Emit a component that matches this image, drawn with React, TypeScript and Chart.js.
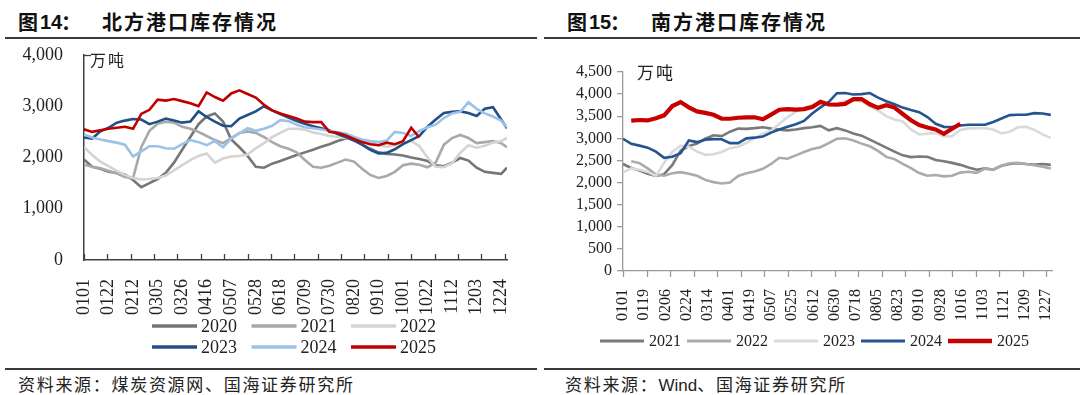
import React, { useEffect, useRef } from "react";
import { Chart, registerables } from "chart.js";

Chart.register(...registerables);

// ---------- 北方港口库存 (left) ----------
const northDays = [0, 7, 14, 21, 28, 35, 42, 49, 56, 63, 70, 77, 84, 91, 98, 105, 112, 119, 126, 133, 140, 147, 154, 161, 168, 175, 182, 189, 196, 203, 210, 217, 224, 231, 238, 245, 252, 259, 266, 273, 280, 287, 294, 301, 308, 315, 322, 329, 336, 343, 350, 357, 362];
const northLabelDays = [0, 21, 42, 63, 84, 105, 126, 147, 168, 189, 210, 231, 252, 273, 294, 315, 336, 357];
const northTickLabels = ["0101", "0122", "0212", "0305", "0326", "0416", "0507", "0528", "0618", "0709", "0730", "0820", "0910", "1001", "1022", "1112", "1203", "1224"];
const northYears = ["2020", "2021", "2022", "2023", "2024", "2025"];
const north2020 = [1960, 1820, 1780, 1720, 1700, 1670, 1560, 1420, 1500, 1580, 1700, 1900, 2150, 2400, 2650, 2800, 2860, 2700, 2350, 2200, 2030, 1820, 1800, 1880, 1930, 1990, 2050, 2100, 2150, 2210, 2260, 2320, 2370, 2360, 2250, 2170, 2100, 2070, 2060, 2040, 2000, 1970, 1930, 1850, 1830, 1900, 1990, 1940, 1800, 1720, 1700, 1680, 1800];
const north2021 = [1860, 1820, 1790, 1740, 1690, 1620, 1600, 2200, 2520, 2660, 2700, 2680, 2600, 2560, 2500, 2420, 2340, 2280, 2380, 2480, 2510, 2480, 2400, 2300, 2220, 2170, 2100, 1950, 1820, 1800, 1840, 1900, 1960, 1920, 1780, 1660, 1600, 1640, 1720, 1850, 1880, 1860, 1810, 1900, 2250, 2380, 2440, 2380, 2280, 2300, 2320, 2280, 2200];
const north2022 = [2200, 2050, 1920, 1830, 1740, 1660, 1600, 1570, 1580, 1600, 1650, 1750, 1850, 1950, 2030, 2080, 1900, 1980, 2020, 2030, 2060, 2180, 2280, 2400, 2480, 2560, 2560, 2540, 2490, 2460, 2420, 2400, 2380, 2340, 2310, 2290, 2240, 2210, 2240, 2280, 2330, 2220, 2000, 1820, 1810, 1890, 2090, 2240, 2190, 2230, 2290, 2320, 2380];
const north2023 = [2390, 2370, 2510, 2580, 2680, 2720, 2750, 2740, 2650, 2700, 2760, 2720, 2680, 2700, 2900, 2790, 2700, 2620, 2610, 2760, 2830, 2900, 3000, 2920, 2850, 2780, 2710, 2660, 2610, 2570, 2530, 2460, 2400, 2330, 2250, 2150, 2080, 2090, 2160, 2260, 2340, 2420, 2600, 2740, 2870, 2890, 2900, 2870, 2810, 2950, 2980, 2740, 2570];
const north2024 = [2450, 2390, 2350, 2320, 2290, 2250, 2020, 2120, 2220, 2220, 2180, 2170, 2260, 2340, 2300, 2240, 2320, 2200, 2370, 2470, 2570, 2520, 2560, 2620, 2730, 2710, 2640, 2590, 2570, 2545, 2520, 2490, 2470, 2400, 2350, 2320, 2300, 2330, 2500, 2480, 2420, 2520, 2590, 2640, 2770, 2860, 2890, 3080, 2950, 2860, 2800, 2720, 2590];
const north2025 = [2550, 2500, 2530, 2560, 2580, 2600, 2560, 2850, 2930, 3130, 3110, 3140, 3100, 3060, 3000, 3270, 3180, 3110, 3250, 3310, 3240, 3170, 3030, 2920, 2860, 2810, 2760, 2700, 2690, 2690, 2500, 2480, 2430, 2360, 2300, 2260, 2240, 2290, 2260, 2320, 2580, 2390];
const northSeries = [north2020, north2021, north2022, north2023, north2024, north2025];
const northColors = ["#767676", "#a9a9a9", "#d4d4d4", "#224f86", "#9cc3e7", "#c00000"];

// ---------- 南方港口库存 (right) ----------
const southDays = [0, 7, 14, 21, 28, 35, 42, 49, 56, 63, 70, 77, 84, 91, 98, 105, 112, 119, 126, 133, 140, 147, 154, 161, 168, 175, 182, 189, 196, 203, 210, 217, 224, 231, 238, 245, 252, 259, 266, 273, 280, 287, 294, 301, 308, 315, 322, 329, 336, 343, 350, 357, 364];
const southLabelDays = [0, 18, 36, 54, 72, 90, 108, 126, 144, 162, 180, 198, 216, 234, 252, 270, 288, 306, 324, 342, 360];
const southTickLabels = ["0101", "0119", "0206", "0224", "0314", "0401", "0419", "0507", "0525", "0612", "0630", "0718", "0805", "0823", "0910", "0928", "1016", "1103", "1121", "1209", "1227"];
const southYears = ["2021", "2022", "2023", "2024", "2025"];
const south2021 = [2420, 2330, 2270, 2200, 2150, 2190, 2400, 2720, 2825, 2880, 2990, 3070, 3050, 3150, 3220, 3215, 3230, 3250, 3220, 3195, 3180, 3200, 3230, 3250, 3280, 3180, 3230, 3180, 3110, 3060, 2970, 2880, 2790, 2700, 2615, 2575, 2590, 2580, 2510, 2480, 2445, 2400, 2340, 2290, 2320, 2290, 2380, 2420, 2435, 2420, 2410, 2420, 2400];
const south2022 = [null, 2480, 2440, 2320, 2180, 2155, 2210, 2235, 2200, 2152, 2060, 2010, 1980, 2000, 2150, 2212, 2250, 2310, 2420, 2560, 2540, 2615, 2690, 2760, 2800, 2890, 2990, 3000, 2950, 2880, 2820, 2715, 2580, 2530, 2420, 2325, 2215, 2155, 2170, 2140, 2155, 2225, 2245, 2220, 2315, 2295, 2378, 2435, 2445, 2420, 2390, 2360, 2320];
const south2023 = [2230, 2320, 2290, 2240, 2150, 2450, 2700, 2830, 2810, 2700, 2627, 2640, 2690, 2778, 2810, 2900, 3010, 3100, 3170, 3330, 3480, 3600, 3700, 3750, 3790, 3780, 3800, 3835, 3858, 3840, 3725, 3630, 3500, 3425, 3380, 3200, 3090, 3105, 3118, 3043, 3050, 3190, 3225, 3231, 3228, 3200, 3110, 3150, 3250, 3260, 3190, 3090, 3010];
const south2024 = [2990, 2875, 2835, 2790, 2700, 2560, 2585, 2665, 2950, 2914, 2970, 2982, 2980, 2892, 2892, 3000, 3015, 3040, 3130, 3200, 3260, 3320, 3395, 3560, 3700, 3820, 4020, 4024, 3990, 4000, 4024, 3920, 3840, 3770, 3695, 3640, 3590, 3480, 3330, 3260, 3254, 3290, 3307, 3307, 3307, 3370, 3450, 3525, 3533, 3533, 3570, 3560, 3530];
const south2025 = [null, 3400, 3415, 3405, 3455, 3520, 3730, 3820, 3700, 3609, 3575, 3533, 3443, 3443, 3466, 3473, 3475, 3430, 3535, 3646, 3660, 3650, 3660, 3710, 3825, 3765, 3760, 3780, 3885, 3888, 3770, 3690, 3750, 3695, 3550, 3410, 3300, 3245, 3200, 3103, 3215, 3330];
const southSeries = [south2021, south2022, south2023, south2024, south2025];
const southColors = ["#7a7a7a", "#ababab", "#dadada", "#245590", "#c80000"];

const TICK_STEP = 20;
const SERIF = "'Liberation Serif', 'Times New Roman', serif";
const CJK = "'Noto Sans CJK SC', sans-serif";

const toPoints = (days: number[], vals: (number | null)[]) =>
  vals.map((v, i) => ({ x: days[i], y: v }));

const tickMarks = {
  id: "tickMarks",
  afterDraw(chart: any, _args: any, opts: any) {
    const xs = chart.scales.x;
    const { ctx, chartArea } = chart;
    ctx.save();
    ctx.strokeStyle = opts.color;
    ctx.lineWidth = opts.width;
    for (let v = 0; v <= xs.max; v += TICK_STEP) {
      const px = Math.round(xs.getPixelForValue(v)) + 0.5;
      ctx.beginPath();
      ctx.moveTo(px, chartArea.bottom);
      ctx.lineTo(px, chartArea.bottom + opts.dir * opts.len);
      ctx.stroke();
    }
    if (opts.topTick) {
      ctx.beginPath();
      ctx.moveTo(chartArea.left, chartArea.top + 0.5);
      ctx.lineTo(chartArea.left + opts.topTick, chartArea.top + 0.5);
      ctx.stroke();
    }
    ctx.restore();
  },
};

const lineLegend = {
  id: "lineLegend",
  afterDraw(chart: any, _args: any, opts: any) {
    const { ctx } = chart;
    ctx.save();
    ctx.font = opts.font;
    ctx.fillStyle = opts.textColor;
    ctx.textBaseline = "middle";
    ctx.textAlign = "left";
    chart.data.datasets.forEach((ds: any, i: number) => {
      const col = i % opts.perRow;
      const row = Math.floor(i / opts.perRow);
      const x = opts.x + col * opts.stride;
      const y = opts.y + row * opts.rowGap;
      ctx.strokeStyle = ds.borderColor;
      ctx.lineWidth = ds.borderWidth + opts.extraWidth;
      ctx.beginPath();
      ctx.moveTo(x, y);
      ctx.lineTo(x + opts.lineLen, y);
      ctx.stroke();
      ctx.fillText(ds.label, x + opts.lineLen + opts.gap, y + 1);
    });
    ctx.restore();
  },
};

function NorthChart() {
  const ref = useRef<HTMLCanvasElement>(null);
  useEffect(() => {
    const chart = new Chart(ref.current as HTMLCanvasElement, {
      type: "line",
      data: {
        datasets: northSeries.map((vals, i) => ({
          label: northYears[i],
          data: toPoints(northDays, vals),
          borderColor: northColors[i],
          borderWidth: 2.6,
          pointRadius: 0,
          tension: 0,
          order: northSeries.length - i,
        })),
      },
      options: {
        responsive: false,
        animation: false,
        layout: { padding: { top: 15, right: 33, left: 0, bottom: 0 } },
        plugins: {
          legend: { display: false },
          tooltip: { enabled: false },
          tickMarks: { color: "#404040", width: 1.3, dir: -1, len: 6, topTick: 7 },
          lineLegend: {
            x: 152, y: 286, perRow: 3, stride: 99.5, rowGap: 21, lineLen: 45, gap: 4,
            font: `18px ${SERIF}`, textColor: "#222", extraWidth: 0.8,
          },
        } as any,
        scales: {
          x: {
            type: "linear",
            min: 0,
            max: 362,
            afterBuildTicks: (s: any) => { s.ticks = northLabelDays.map((v) => ({ value: v })); },
            afterFit: (s: any) => { s.height = 100; s.paddingLeft = 0; s.paddingRight = 0; },
            grid: { display: false },
            border: { display: true, color: "#404040", width: 1.5 },
            ticks: {
              autoSkip: false, minRotation: 90, maxRotation: 90, padding: 11,
              color: "#222", font: { family: SERIF, size: 18 },
              callback: (_v: any, i: number) => northTickLabels[i],
            },
          },
          y: {
            min: 0,
            max: 4000,
            afterFit: (s: any) => { s.width = 84; s.paddingTop = 0; s.paddingBottom = 0; },
            grid: { display: false },
            border: { display: true, color: "#404040", width: 1.5 },
            ticks: {
              stepSize: 1000, autoSkip: false, padding: 13, color: "#222", font: { family: SERIF, size: 18 },
              callback: (v: any) => Number(v).toLocaleString("en-US"),
            },
          },
        },
      },
      plugins: [tickMarks, lineLegend],
    } as any);
    return () => chart.destroy();
  }, []);
  return <canvas ref={ref} width={540} height={320} style={{ position: "absolute", left: 0, top: 40 }} />;
}

function SouthChart() {
  const ref = useRef<HTMLCanvasElement>(null);
  useEffect(() => {
    const chart = new Chart(ref.current as HTMLCanvasElement, {
      type: "line",
      data: {
        datasets: southSeries.map((vals, i) => ({
          label: southYears[i],
          data: toPoints(southDays, vals),
          borderColor: southColors[i],
          borderWidth: i === southSeries.length - 1 ? 4.2 : 2.6,
          pointRadius: 0,
          tension: 0,
          order: southSeries.length - i,
        })),
      },
      options: {
        responsive: false,
        animation: false,
        layout: { padding: { top: 32, right: 28, left: 0, bottom: 0 } },
        plugins: {
          legend: { display: false },
          tooltip: { enabled: false },
          tickMarks: { color: "#9a9a9a", width: 1.3, dir: 1, len: 6, topTick: 0 },
          lineLegend: {
            x: 60, y: 301, perRow: 5, stride: 87, rowGap: 0, lineLen: 44, gap: 5,
            font: `16px ${SERIF}`, textColor: "#222", extraWidth: 0.4,
          },
        } as any,
        scales: {
          x: {
            type: "linear",
            min: 0,
            max: 365,
            afterBuildTicks: (s: any) => { s.ticks = southLabelDays.map((v) => ({ value: v })); },
            afterFit: (s: any) => { s.height = 89; s.paddingLeft = 0; s.paddingRight = 0; },
            grid: { display: false },
            border: { display: true, color: "#9a9a9a", width: 1.3 },
            ticks: {
              autoSkip: false, minRotation: 90, maxRotation: 90, padding: 10,
              color: "#222", font: { family: SERIF, size: 16 },
              callback: (_v: any, i: number) => southTickLabels[i],
            },
          },
          y: {
            min: 0,
            max: 4500,
            afterFit: (s: any) => { s.width = 83; s.paddingTop = 0; s.paddingBottom = 0; },
            grid: { display: true, drawOnChartArea: false, drawTicks: true, tickLength: 6, color: "#9a9a9a", lineWidth: 1.3 },
            border: { display: true, color: "#9a9a9a", width: 1.3 },
            ticks: {
              stepSize: 500, autoSkip: false, padding: 5, color: "#222", font: { family: SERIF, size: 16 },
              callback: (v: any) => Number(v).toLocaleString("en-US"),
            },
          },
        },
      },
      plugins: [tickMarks, lineLegend],
    } as any);
    return () => chart.destroy();
  }, []);
  return <canvas ref={ref} width={540} height={320} style={{ position: "absolute", left: 540, top: 40 }} />;
}

function Title({ left, num, text }: { left: number; num: string; text: string }) {
  const base: React.CSSProperties = { position: "absolute", top: 10, lineHeight: "24px", fontSize: 20, color: "#111", whiteSpace: "nowrap" };
  return (
    <>
      <div style={{ ...base, left, fontFamily: CJK, fontWeight: 700 }}>图</div>
      <div style={{ ...base, left: left + 22, fontFamily: "'Liberation Sans', Arial, sans-serif", fontWeight: 700 }}>{num}</div>
      <div style={{ ...base, left: left + 43, fontFamily: CJK, fontWeight: 700 }}>：</div>
      <div style={{ ...base, left: left + 84, fontFamily: CJK, fontWeight: 700, letterSpacing: 2 }}>{text}</div>
    </>
  );
}

export default function App() {
  useEffect(() => {
    document.body.style.margin = "0";
  }, []);
  const rule = (left: number, width: number, top: number): React.CSSProperties => ({
    position: "absolute", left, width, top, height: 1.5, background: "#3a3a3a",
  });
  const source: React.CSSProperties = {
    position: "absolute", top: 373, lineHeight: "22px", fontSize: 17, letterSpacing: 1.7,
    fontFamily: CJK, color: "#222", whiteSpace: "nowrap",
  };
  const unit: React.CSSProperties = { position: "absolute", fontFamily: CJK, color: "#222", whiteSpace: "nowrap" };
  return (
    <div style={{ position: "relative", width: 1080, height: 395, background: "#fff", overflow: "hidden" }}>
      <Title left={18} num="14" text="北方港口库存情况" />
      <Title left={567} num="15" text="南方港口库存情况" />
      <div style={rule(5, 532, 37)} />
      <div style={rule(544, 536, 37)} />
      <NorthChart />
      <SouthChart />
      <div style={{ ...unit, left: 90, top: 48, fontSize: 16, lineHeight: "22px", letterSpacing: 2 }}>万吨</div>
      <div style={{ ...unit, left: 637, top: 61, fontSize: 17, lineHeight: "22px", letterSpacing: 2 }}>万吨</div>
      <div style={rule(5, 532, 368)} />
      <div style={rule(544, 536, 368)} />
      <div style={{ ...source, left: 18 }}>资料来源：煤炭资源网、国海证券研究所</div>
      <div style={{ ...source, left: 565 }}>
        资料来源：<span style={{ fontFamily: "'Liberation Sans', Arial, sans-serif", letterSpacing: 0 }}>Wind</span>、国海证券研究所
      </div>
    </div>
  );
}
